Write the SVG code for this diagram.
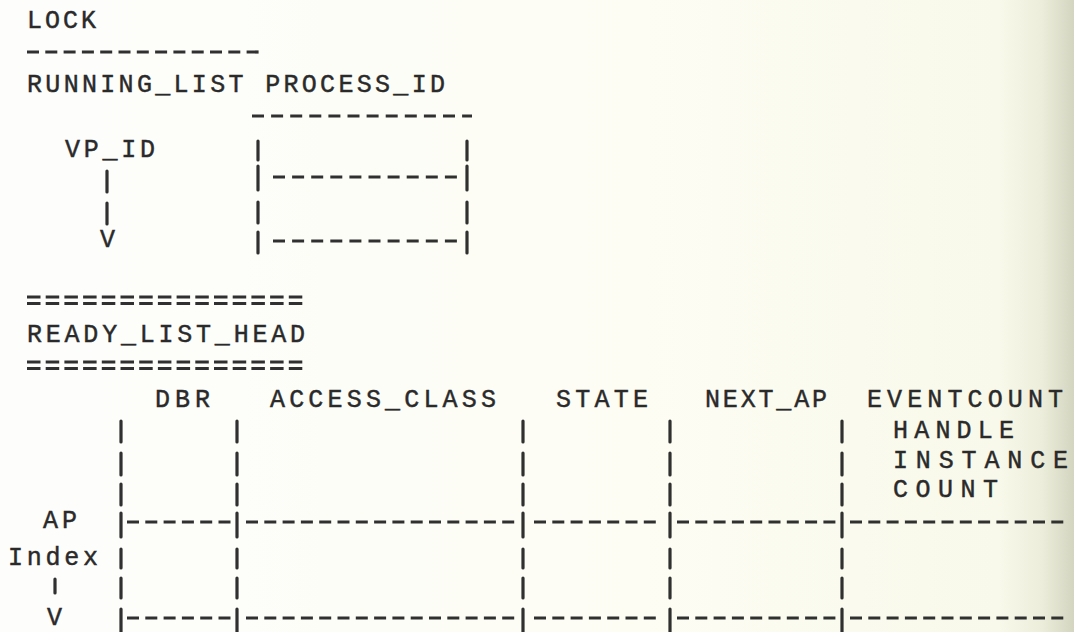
<svg xmlns="http://www.w3.org/2000/svg" width="1074" height="632" viewBox="0 0 1074 632">
<defs>
<linearGradient id="bg" x1="0" y1="0" x2="1" y2="0">
<stop offset="0" stop-color="#fdfdfc"/>
<stop offset="0.6" stop-color="#fdfdf4"/>
<stop offset="0.93" stop-color="#f8f9ea"/>
<stop offset="0.97" stop-color="#ecedda"/>
<stop offset="1" stop-color="#d4d5c1"/>
</linearGradient>
<style>
.t{font-family:"Liberation Mono","DejaVu Sans Mono",monospace;font-size:25px;fill:#2a2a2a;stroke:#2a2a2a;stroke-width:0.45px;}
.d{stroke:#303030;stroke-width:3.2;stroke-dasharray:12 6.3;fill:none;}
.d2{stroke:#303030;stroke-width:3.2;stroke-dasharray:12 7.1;fill:none;}
.e{stroke:#303030;stroke-width:2.8;stroke-dasharray:13.5 5.2;fill:none;}
.p{stroke:#303030;stroke-width:3.2;stroke-linecap:round;}
</style>
</defs>
<rect width="1074" height="632" fill="url(#bg)"/>

<g id="lock">
<text class="t" x="27" y="28" textLength="69" lengthAdjust="spacing">LOCK</text>
<line class="d" x1="27" y1="52" x2="258.6" y2="52"/>
</g>

<g id="running-list">
<text class="t" x="27" y="92" textLength="418" lengthAdjust="spacing">RUNNING_LIST PROCESS_ID</text>
<text class="t" x="65" y="157" textLength="90" lengthAdjust="spacing">VP_ID</text>
</g>

<g id="process-id-box">
<line class="d2" x1="252" y1="116" x2="472" y2="116"/>
<line class="p" x1="258" y1="141" x2="258" y2="160"/>
<line class="p" x1="467" y1="141" x2="467" y2="160"/>
<line class="p" x1="258" y1="166" x2="258" y2="190"/>
<line class="p" x1="467" y1="166" x2="467" y2="190"/>
<line class="d2" x1="273" y1="177" x2="457" y2="177"/>
<line class="p" x1="258" y1="202" x2="258" y2="223"/>
<line class="p" x1="467" y1="202" x2="467" y2="223"/>
<line class="p" x1="258" y1="232" x2="258" y2="253"/>
<line class="p" x1="467" y1="232" x2="467" y2="253"/>
<line class="d2" x1="273" y1="241" x2="457" y2="241"/>
</g>

<g id="ready-list-head">
<line class="e" x1="27" y1="297" x2="302.3" y2="297"/>
<line class="e" x1="27" y1="303.5" x2="302.3" y2="303.5"/>
<text class="t" x="27" y="342" textLength="278" lengthAdjust="spacing">READY_LIST_HEAD</text>
<line class="e" x1="27" y1="362" x2="302.3" y2="362"/>
<line class="e" x1="27" y1="368.5" x2="302.3" y2="368.5"/>
</g>

<g id="ap-table">
<text class="t" x="155" y="407" textLength="55" lengthAdjust="spacing">DBR</text>
<text class="t" x="270" y="407" textLength="226" lengthAdjust="spacing">ACCESS_CLASS</text>
<text class="t" x="556" y="407" textLength="92" lengthAdjust="spacing">STATE</text>
<text class="t" x="705" y="407" textLength="122" lengthAdjust="spacing">NEXT_AP</text>
<text class="t" x="867" y="407" textLength="196" lengthAdjust="spacing">EVENTCOUNT</text>
<text class="t" x="893" y="438" textLength="121" lengthAdjust="spacing">HANDLE</text>
<text class="t" x="893" y="468" textLength="175" lengthAdjust="spacing">INSTANCE</text>
<text class="t" x="893" y="497" textLength="105" lengthAdjust="spacing">COUNT</text>
<g id="ap-table-pipes">
<line class="p" x1="121" y1="421" x2="121" y2="442"/><line class="p" x1="237" y1="421" x2="237" y2="442"/><line class="p" x1="523" y1="421" x2="523" y2="442"/><line class="p" x1="670" y1="421" x2="670" y2="442"/><line class="p" x1="842" y1="421" x2="842" y2="442"/>
<line class="p" x1="121" y1="453" x2="121" y2="475"/><line class="p" x1="237" y1="453" x2="237" y2="475"/><line class="p" x1="523" y1="453" x2="523" y2="475"/><line class="p" x1="670" y1="453" x2="670" y2="475"/><line class="p" x1="842" y1="453" x2="842" y2="475"/>
<line class="p" x1="121" y1="484" x2="121" y2="505"/><line class="p" x1="237" y1="484" x2="237" y2="505"/><line class="p" x1="523" y1="484" x2="523" y2="505"/><line class="p" x1="670" y1="484" x2="670" y2="505"/><line class="p" x1="842" y1="484" x2="842" y2="505"/>
<line class="p" x1="121" y1="513" x2="121" y2="537"/><line class="p" x1="237" y1="513" x2="237" y2="537"/><line class="p" x1="523" y1="513" x2="523" y2="537"/><line class="p" x1="670" y1="513" x2="670" y2="537"/><line class="p" x1="842" y1="513" x2="842" y2="537"/>
<line class="p" x1="121" y1="549" x2="121" y2="568"/><line class="p" x1="237" y1="549" x2="237" y2="568"/><line class="p" x1="523" y1="549" x2="523" y2="568"/><line class="p" x1="670" y1="549" x2="670" y2="568"/><line class="p" x1="842" y1="549" x2="842" y2="568"/>
<line class="p" x1="121" y1="578" x2="121" y2="598"/><line class="p" x1="237" y1="578" x2="237" y2="598"/><line class="p" x1="523" y1="578" x2="523" y2="598"/><line class="p" x1="670" y1="578" x2="670" y2="598"/><line class="p" x1="842" y1="578" x2="842" y2="598"/>
<line class="p" x1="121" y1="609" x2="121" y2="632"/><line class="p" x1="237" y1="609" x2="237" y2="632"/><line class="p" x1="523" y1="609" x2="523" y2="632"/><line class="p" x1="670" y1="609" x2="670" y2="632"/><line class="p" x1="842" y1="609" x2="842" y2="632"/>
</g>
<g id="ap-table-rules">
<line class="d" x1="127" y1="522" x2="230.5" y2="522"/>
<line class="d" x1="246" y1="522" x2="514.2" y2="522"/>
<line class="d" x1="534" y1="522" x2="655.8" y2="522"/>
<line class="d" x1="677" y1="522" x2="835.4" y2="522"/>
<line class="d" x1="850" y1="522" x2="1063.3" y2="522"/>
<line class="d" x1="127" y1="618" x2="230.5" y2="618"/>
<line class="d" x1="246" y1="618" x2="514.2" y2="618"/>
<line class="d" x1="534" y1="618" x2="655.8" y2="618"/>
<line class="d" x1="677" y1="618" x2="835.4" y2="618"/>
<line class="d" x1="850" y1="618" x2="1063.3" y2="618"/>
</g>
</g>

<g id="connectors">
<g id="vp-id-arrow">
<line class="p" x1="107" y1="171" x2="107" y2="192"/>
<line class="p" x1="107" y1="203" x2="107" y2="224"/>
<text class="t" x="100" y="247">V</text>
</g>
<g id="ap-index-arrow">
<text class="t" x="43" y="528" textLength="34" lengthAdjust="spacing">AP</text>
<text class="t" x="8" y="565" textLength="90" lengthAdjust="spacing">Index</text>
<line class="p" x1="55" y1="579" x2="55" y2="593"/>
<text class="t" x="47" y="625">V</text>
</g>
</g>
</svg>
